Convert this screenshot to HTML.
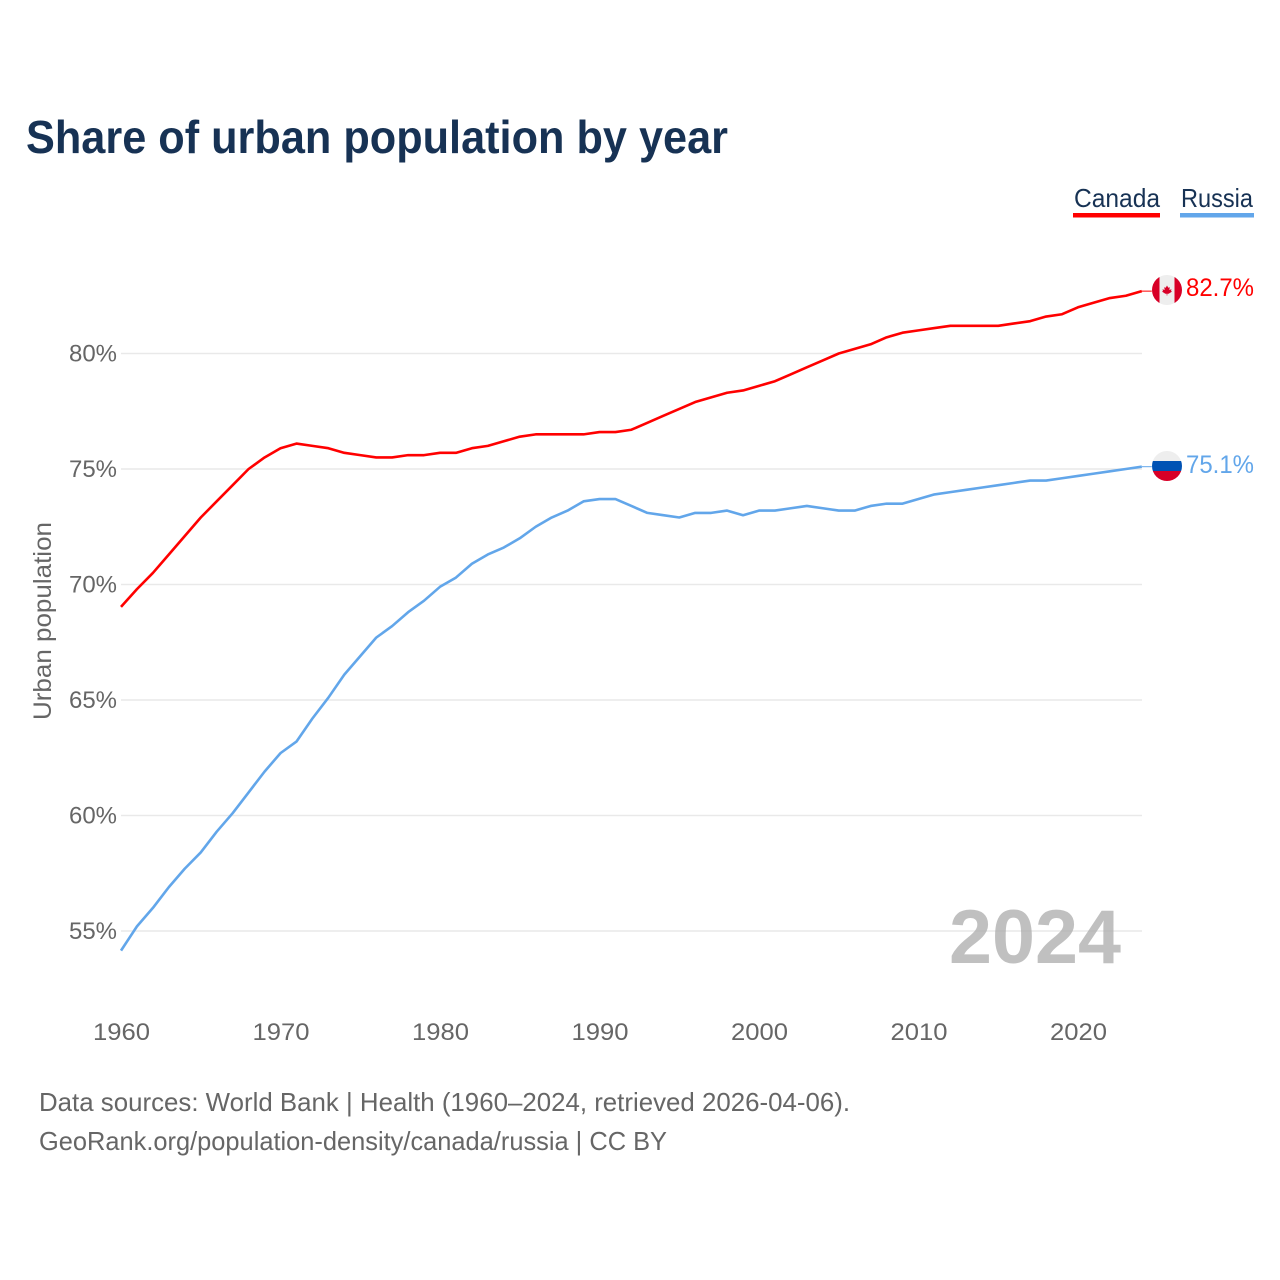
<!DOCTYPE html>
<html lang="en">
<head>
<meta charset="utf-8">
<title>Share of urban population by year</title>
<style>
html,body{margin:0;padding:0;background:#fff;width:1280px;height:1280px;overflow:hidden}
svg{display:block}
text{font-family:"Liberation Sans",sans-serif}
</style>
</head>
<body>
<svg id="chart" width="1280" height="1280" viewBox="0 0 1280 1280" xmlns="http://www.w3.org/2000/svg">
  <defs>
    <clipPath id="clip-ca"><circle cx="1167" cy="290" r="15"/></clipPath>
    <clipPath id="clip-ru"><circle cx="1167" cy="466" r="15"/></clipPath>
  </defs>
  <text x="26" y="153" font-size="46" font-weight="700" fill="#173254" textLength="702" lengthAdjust="spacingAndGlyphs">Share of urban population by year</text>

  <g>
    <g>
      <text x="1074" y="207" font-size="26" fill="#173254" textLength="86" lengthAdjust="spacingAndGlyphs">Canada</text>
      <rect x="1073" y="213" width="87" height="4.5" fill="#ff0000"/>
    </g>
    <g>
      <text x="1181" y="207" font-size="26" fill="#173254" textLength="72" lengthAdjust="spacingAndGlyphs">Russia</text>
      <rect x="1180" y="213" width="74" height="4.5" fill="#62a6ea"/>
    </g>
  </g>

  <g id="grid"></g>
  <g id="ylabels"></g>
  <g id="xlabels"></g>

  <text transform="translate(51,621) rotate(-90)" text-anchor="middle" font-size="25" fill="#666666" textLength="198" lengthAdjust="spacingAndGlyphs">Urban population</text>

  <text x="949" y="963" font-size="76" font-weight="700" fill="#a8a8a8" fill-opacity="0.72" textLength="172" lengthAdjust="spacingAndGlyphs">2024</text>

  <g id="series"></g>

  <g>
    <g clip-path="url(#clip-ca)">
      <rect x="1152" y="275" width="30" height="30" fill="#eeeeee"/>
      <rect x="1152" y="275" width="7.5" height="30" fill="#d80027"/>
      <rect x="1174.5" y="275" width="7.5" height="30" fill="#d80027"/>
      <polygon points="1167,285.5 1168.3,287.8 1169.8,287.2 1169.3,290 1171.5,289.2 1171,291 1172,291.6 1168.6,293.8 1167.3,293.8 1167.3,295.5 1166.7,295.5 1166.7,293.8 1165.4,293.8 1162,291.6 1163,291 1162.5,289.2 1164.7,290 1164.2,287.2 1165.7,287.8" fill="#d80027"/>
    </g>
  </g>
  <g>
    <g clip-path="url(#clip-ru)">
      <rect x="1152" y="451" width="30" height="10" fill="#eeeeee"/>
      <rect x="1152" y="461" width="30" height="10" fill="#0052b4"/>
      <rect x="1152" y="471" width="30" height="10" fill="#d80027"/>
    </g>
  </g>

  <text x="1186" y="296" font-size="25" fill="#ff0000" textLength="68" lengthAdjust="spacingAndGlyphs">82.7%</text>
  <text x="1186" y="473" font-size="25" fill="#62a6ea" textLength="68" lengthAdjust="spacingAndGlyphs">75.1%</text>

  <text x="39" y="1111" font-size="26" fill="#666666" textLength="811" lengthAdjust="spacingAndGlyphs">Data sources: World Bank | Health (1960–2024, retrieved 2026-04-06).</text>
  <text x="39" y="1150" font-size="26" fill="#666666" textLength="628" lengthAdjust="spacingAndGlyphs">GeoRank.org/population-density/canada/russia | CC BY</text>
</svg>
<script>
const startYear = 1960;
const canadaValues = [69.03,69.8,70.5,71.3,72.1,72.9,73.6,74.3,75.0,75.5,75.9,76.1,76.0,75.9,75.7,75.6,75.5,75.5,75.6,75.6,75.7,75.7,75.9,76.0,76.2,76.4,76.5,76.5,76.5,76.5,76.6,76.6,76.7,77.0,77.3,77.6,77.9,78.1,78.3,78.4,78.6,78.8,79.1,79.4,79.7,80.0,80.2,80.4,80.7,80.9,81.0,81.1,81.2,81.2,81.2,81.2,81.3,81.4,81.6,81.7,82.0,82.2,82.4,82.5,82.7];
const russiaValues = [54.15,55.2,56.0,56.9,57.7,58.4,59.3,60.1,61.0,61.9,62.7,63.2,64.2,65.1,66.1,66.9,67.7,68.2,68.8,69.3,69.9,70.3,70.9,71.3,71.6,72.0,72.5,72.9,73.2,73.6,73.7,73.7,73.4,73.1,73.0,72.9,73.1,73.1,73.2,73.0,73.2,73.2,73.3,73.4,73.3,73.2,73.2,73.4,73.5,73.5,73.7,73.9,74.0,74.1,74.2,74.3,74.4,74.5,74.5,74.6,74.7,74.8,74.9,75.0,75.1];
const yTicks = [55,60,65,70,75,80];
const xTicks = [1960,1970,1980,1990,2000,2010,2020];

const NS = 'http://www.w3.org/2000/svg';
function xScale(year){ return 121 + (year - 1960) * 15.95; }
function yScale(v){ return 353.5 + (80 - v) * 23.1; }

const grid = document.getElementById('grid');
const ylabels = document.getElementById('ylabels');
const xlabels = document.getElementById('xlabels');
const series = document.getElementById('series');

yTicks.forEach(function(t){
  const ln = document.createElementNS(NS,'line');
  ln.setAttribute('x1', 121);
  ln.setAttribute('x2', 1142);
  ln.setAttribute('y1', yScale(t));
  ln.setAttribute('y2', yScale(t));
  ln.setAttribute('stroke', '#e9e9e9');
  ln.setAttribute('stroke-width', '1.5');
  
  
  grid.appendChild(ln);

  const tx = document.createElementNS(NS,'text');
  tx.setAttribute('x', 117);
  tx.setAttribute('y', yScale(t) + 8);
  tx.setAttribute('text-anchor', 'end');
  tx.setAttribute('font-size', '24');
  tx.setAttribute('fill', '#666666');
  tx.setAttribute('textLength', '48');
  tx.setAttribute('lengthAdjust', 'spacingAndGlyphs');
  tx.textContent = t + '%';
  
  
  ylabels.appendChild(tx);
});

xTicks.forEach(function(t){
  const tx = document.createElementNS(NS,'text');
  tx.setAttribute('x', xScale(t) + 0.5);
  tx.setAttribute('y', 1040);
  tx.setAttribute('text-anchor', 'middle');
  tx.setAttribute('font-size', '24');
  tx.setAttribute('fill', '#666666');
  tx.setAttribute('textLength', '57');
  tx.setAttribute('lengthAdjust', 'spacingAndGlyphs');
  tx.textContent = t;
  
  
  xlabels.appendChild(tx);
});

function drawSeries(values, color, name){
  const pts = values.map(function(v,i){
    return xScale(startYear + i).toFixed(2) + ',' + yScale(v).toFixed(2);
  }).join(' ');
  const pl = document.createElementNS(NS,'polyline');
  pl.setAttribute('points', pts);
  pl.setAttribute('fill', 'none');
  pl.setAttribute('stroke', color);
  pl.setAttribute('stroke-width', '2.6');
  pl.setAttribute('stroke-linejoin', 'round');
  
  
  series.appendChild(pl);

  const lastY = yScale(values[values.length - 1]);
  const lastX = xScale(startYear + values.length - 1);
  const c = document.createElementNS(NS,'line');
  c.setAttribute('x1', lastX);
  c.setAttribute('x2', lastX + 10);
  c.setAttribute('y1', lastY);
  c.setAttribute('y2', lastY);
  c.setAttribute('stroke', color);
  c.setAttribute('stroke-width', '1');
  
  
  series.appendChild(c);
}
drawSeries(canadaValues, '#ff0000', 'canada');
drawSeries(russiaValues, '#62a6ea', 'russia');
</script>
</body>
</html>
